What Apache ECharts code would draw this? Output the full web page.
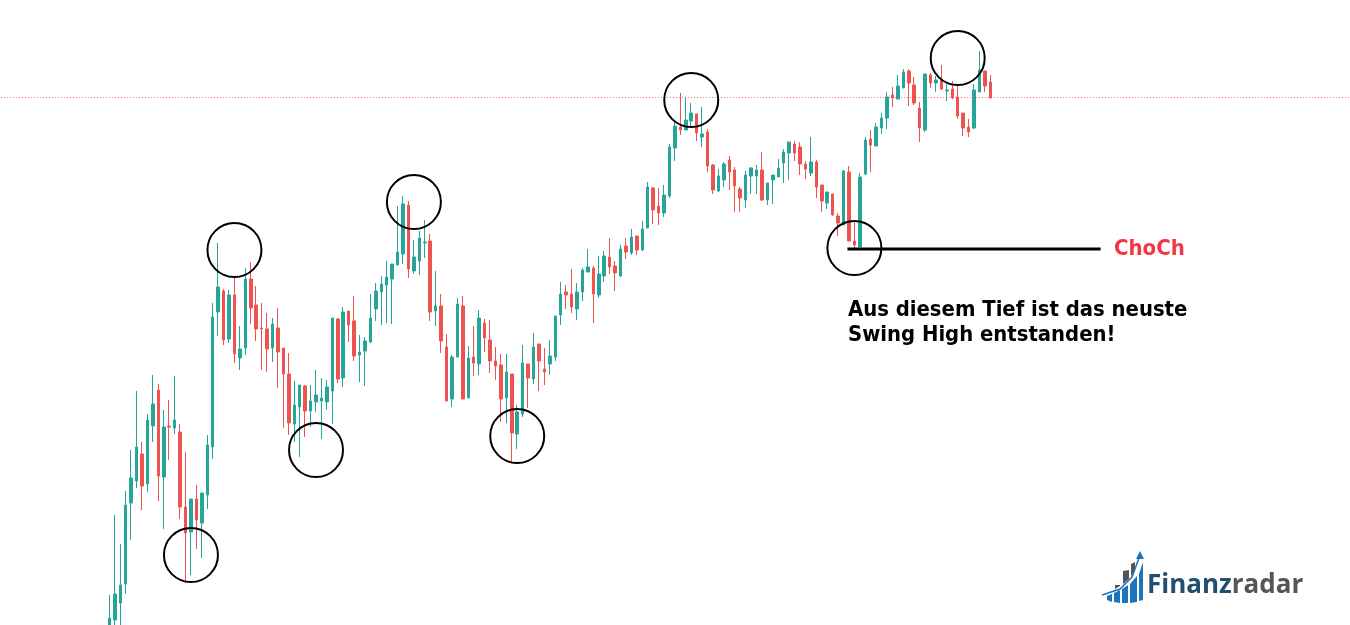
<!DOCTYPE html>
<html lang="de">
<head>
    <meta charset="utf-8">
    <style>html, body { margin: 0; height: 100%; background: #fff; }</style>
</head>
<body>
<div id="container" style="width: 1350px; height: 625px"></div>
<script src="https://fastly.jsdelivr.net/npm/echarts@6/dist/echarts.min.js"></script>
<script type="text/javascript">
    // prices are on the chart's own unlabelled scale
    var opens = [-5, 5, 22, 41, 122, 144, 171, 141, 199, 235, 148, 199, 197, 193, 118, 93, 126, 102, 130, 178,
        313, 334, 286, 330, 267, 277, 346, 320, 297, 296, 277, 297, 277, 251, 201, 218, 239, 214, 223, 224,
        223, 234, 306, 247, 314, 304, 270, 274, 283, 316, 333, 340, 346, 360, 371, 420, 354, 364, 382, 384,
        314, 319, 278, 226, 268, 319, 227, 268, 261, 302, 285, 264, 260, 227, 251, 191, 211, 261, 246, 281,
        256, 261, 268, 310, 333, 331, 316, 333, 353, 357, 330, 349, 368, 359, 349, 379, 372, 389, 375, 397,
        437, 419, 412, 429, 477, 498, 495, 504, 511, 488, 493, 460, 434, 445, 465, 455, 436, 425, 449, 449,
        455, 425, 445, 448, 462, 472, 481, 478, 461, 452, 463, 440, 422, 431, 409, 400, 453, 384, 378, 451,
        486, 479, 497, 507, 530, 526, 537, 554, 540, 517, 495, 550, 542, 545, 534, 536, 528, 512, 498, 497,
        533, 554, 543];
    var closes = [7, 31, 40, 120, 147, 178, 139, 205, 221, 149, 198, 198, 205, 118, 92, 126, 105, 132, 180, 308,
        338, 285, 330, 271, 276, 346, 317, 296, 296, 276, 301, 273, 251, 202, 220, 240, 214, 224, 230, 227,
        238, 307, 246, 313, 300, 269, 273, 284, 307, 334, 341, 348, 361, 373, 421, 356, 368, 387, 383, 313,
        319, 284, 224, 268, 321, 226, 267, 262, 307, 287, 264, 259, 226, 253, 192, 213, 262, 247, 278, 264,
        253, 269, 309, 331, 330, 318, 333, 355, 358, 331, 351, 369, 358, 352, 376, 373, 388, 375, 396, 438,
        415, 412, 430, 478, 499, 495, 505, 512, 492, 491, 459, 435, 449, 461, 453, 439, 427, 450, 457, 455,
        425, 442, 450, 457, 473, 483, 472, 461, 456, 463, 438, 424, 433, 410, 402, 454, 384, 380, 448, 485,
        480, 498, 507, 528, 527, 539, 553, 542, 522, 497, 551, 542, 545, 536, 535, 527, 509, 497, 493, 535,
        555, 539, 527];
    var lows = [-10, -5, 0, 31, 85, 137, 115, 133, 183, 124, 96, 165, 191, 106, 42, 50, 76, 67, 116, 166,
        289, 280, 282, 262, 255, 270, 301, 284, 255, 253, 263, 237, 197, 190, 183, 168, 188, 198, 213, 186,
        215, 201, 242, 238, 283, 264, 243, 239, 282, 304, 300, 302, 301, 360, 361, 347, 351, 350, 367, 304,
        299, 272, 224, 218, 268, 226, 227, 249, 250, 273, 252, 245, 203, 202, 162, 176, 208, 217, 241, 234,
        240, 250, 264, 300, 316, 312, 305, 324, 353, 302, 327, 343, 351, 334, 348, 366, 370, 370, 374, 397,
        401, 400, 408, 427, 464, 490, 495, 498, 484, 478, 453, 431, 433, 438, 435, 413, 413, 417, 431, 431,
        424, 420, 421, 448, 442, 445, 464, 450, 446, 449, 427, 413, 416, 409, 389, 400, 384, 376, 378, 450,
        453, 479, 491, 496, 518, 526, 537, 519, 520, 483, 493, 537, 533, 535, 524, 526, 506, 489, 488, 496,
        533, 533, 527];
    var highs = [30, 110, 81, 134, 175, 234, 183, 211, 250, 241, 215, 225, 249, 201, 173, 126, 140, 132, 190, 322,
        382, 336, 335, 348, 299, 357, 363, 339, 322, 312, 307, 317, 277, 272, 244, 240, 240, 240, 255, 247,
        245, 307, 307, 318, 314, 329, 290, 288, 331, 342, 349, 364, 361, 419, 429, 424, 385, 394, 405, 391,
        354, 331, 291, 270, 327, 329, 279, 299, 315, 306, 305, 278, 271, 271, 251, 220, 280, 261, 292, 281,
        277, 285, 309, 343, 340, 356, 342, 357, 376, 359, 369, 374, 387, 364, 380, 387, 396, 389, 404, 443,
        438, 437, 440, 481, 503, 532, 528, 522, 511, 518, 496, 461, 456, 463, 469, 458, 438, 454, 458, 460,
        473, 442, 450, 466, 476, 483, 484, 483, 464, 488, 465, 440, 433, 431, 412, 455, 459, 404, 452, 488,
        495, 502, 512, 533, 538, 550, 556, 556, 548, 523, 551, 552, 549, 560, 541, 544, 539, 512, 506, 541,
        574, 554, 550];
    var lastClose = 527.6;

    // swing points get a ring: candle number and price level of the centre
    var ringCandles = [15, 23, 38, 56, 75, 107, 137, 156];
    var ringLevels = [70, 375, 175, 423, 189, 525, 377, 567];
    var chochCandles = [136, 182];
    var chochLevel = 376;

    var leadSlots = 20;
    var slotCount = 250;
    var slotWidth = 5.438;

    var slots = [];
    for (var s = 0; s < slotCount; s++) slots.push(s - leadSlots);

    var candles = [];
    for (var p = 0; p < leadSlots; p++) candles.push(['-', '-', '-', '-']);
    opens.forEach(function (o, i) {
        candles.push([o, closes[i], lows[i], highs[i]]);
    });

    var logoBlue = '#1c75bc';
    var logoGrey = '#555';

    var dom = document.getElementById('container');
    var myChart = echarts.init(dom, null, { renderer: 'canvas' });

    var option = {
        animation: false,
        backgroundColor: '#fff',
        grid: { left: -2.1, top: 0, width: slotCount * slotWidth, height: 625, outerBoundsMode: 'none' },
        xAxis: {
            type: 'category',
            data: slots,
            boundaryGap: true,
            show: false
        },
        yAxis: { type: 'value', min: 0, max: 625, show: false, splitLine: { show: false } },
        series: [
            {
                type: 'candlestick',
                data: candles,
                barWidth: 3,
                itemStyle: {
                    color: '#26a69a',
                    color0: '#ef5350',
                    borderColor: '#26a69a',
                    borderColor0: '#ef5350',
                    borderWidth: 1
                },
                markLine: {
                    silent: true,
                    symbol: 'none',
                    label: { show: false },
                    lineStyle: { color: '#ef5350', type: [1, 2], width: 1, opacity: 0.8 },
                    data: [{ yAxis: lastClose }]
                }
            },
            {
                type: 'scatter',
                symbol: 'circle',
                symbolSize: 54,
                itemStyle: { color: 'transparent', borderColor: '#000', borderWidth: 2, opacity: 1 },
                data: ringCandles.map(function (c, i) {
                    return [c + leadSlots, ringLevels[i]];
                }),
                z: 5
            },
            {
                type: 'line',
                symbol: 'none',
                lineStyle: { color: '#000', width: 3, cap: 'square' },
                data: chochCandles.map(function (c) {
                    return [c + leadSlots, chochLevel];
                }),
                z: 6
            }
        ],
        graphic: [
            {
                type: 'text', left: 1114, top: 238, z: 10,
                style: { text: 'ChoCh', fill: '#f23645', font: 'bold 22px "DejaVu Sans Condensed", "DejaVu Sans"' }
            },
            {
                type: 'text', left: 848, top: 298, z: 10,
                style: {
                    text: 'Aus diesem Tief ist das neuste\nSwing High entstanden!',
                    fill: '#000',
                    lineHeight: 25,
                    font: 'bold 21.85px "DejaVu Sans Condensed", "DejaVu Sans"'
                }
            },
            // logo
            { type: 'polygon', z: 10, shape: { points: [[1107, 596], [1112, 594], [1112, 602], [1107, 600]] }, style: { fill: logoBlue } },
            { type: 'polygon', z: 10, shape: { points: [[1114, 593], [1120, 590], [1120, 603], [1114, 602]] }, style: { fill: logoBlue } },
            { type: 'polygon', z: 10, shape: { points: [[1122, 589], [1128, 585], [1128, 603], [1122, 603]] }, style: { fill: logoBlue } },
            { type: 'polygon', z: 10, shape: { points: [[1130, 584], [1137, 576], [1137, 602], [1130, 603]] }, style: { fill: logoBlue } },
            { type: 'polygon', z: 10, shape: { points: [[1139, 574], [1143, 562], [1143, 600], [1139, 601]] }, style: { fill: logoBlue } },
            { type: 'polygon', z: 10, shape: { points: [[1115, 589], [1120, 586], [1120, 585], [1115, 585]] }, style: { fill: logoGrey } },
            { type: 'polygon', z: 10, shape: { points: [[1123, 584], [1129, 579], [1129, 570], [1123, 571]] }, style: { fill: logoGrey } },
            { type: 'polygon', z: 10, shape: { points: [[1131, 576], [1135, 571], [1135, 562], [1131, 564]] }, style: { fill: logoGrey } },
            { type: 'polyline', z: 10, shape: { points: [[1102, 595], [1120, 589], [1132, 577], [1139, 558]] }, style: { stroke: logoBlue, lineWidth: 1.5, fill: 'none' } },
            { type: 'polygon', z: 10, shape: { points: [[1140, 551], [1144, 559], [1136, 559]] }, style: { fill: logoBlue } },
            {
                type: 'text', left: 1147, top: 573, z: 10,
                style: {
                    text: '{a|Finanz}{b|radar}',
                    rich: {
                        a: { fill: '#24506f', font: 'bold 26px "Open Sans"' },
                        b: { fill: '#555', font: 'bold 26px "Open Sans"' }
                    }
                }
            }
        ]
    };

    if (option && typeof option === 'object') {
        myChart.setOption(option);
    }

    window.addEventListener('resize', myChart.resize);
</script>
</body>
</html>
